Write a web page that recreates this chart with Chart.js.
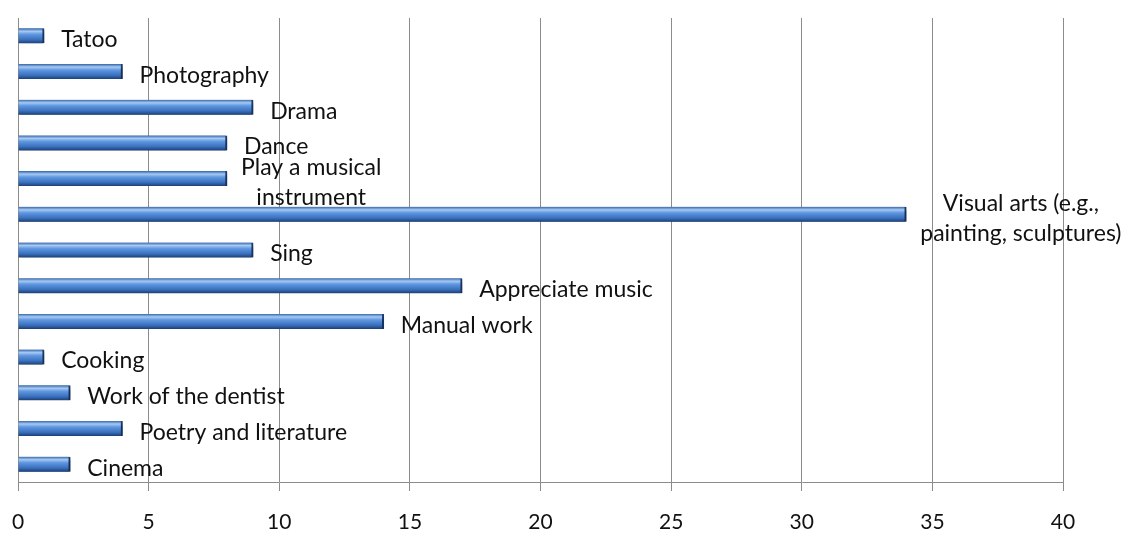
<!DOCTYPE html>
<html>
<head>
<meta charset="utf-8">
<script src="https://cdn.jsdelivr.net/npm/chart.js@4"></script>
<style>
  html, body { margin: 0; padding: 0; background: #fff; }
  #wrap { width: 1133px; height: 536px; }
</style>
</head>
<body>
<div id="wrap"><canvas id="myChart" width="1133" height="536"></canvas></div>
<script>
const categories = [
    'Tatoo', 'Photography', 'Drama', 'Dance', ['Play a musical', 'instrument'],
    ['Visual arts (e.g.,', 'painting, sculptures)'], 'Sing', 'Appreciate music',
    'Manual work', 'Cooking', 'Work of the dentist', 'Poetry and literature', 'Cinema'
];
const counts = [1, 4, 9, 8, 8, 34, 9, 17, 14, 1, 2, 4, 2];
const xTicks = [0, 5, 10, 15, 20, 25, 30, 35, 40];

const BAR = 15;
const FAMILY = 'Lato, "Open Sans", sans-serif';

// glossy blue fill, one gradient per bar row
function barFill(context) {
    const chart = context.chart;
    if (!chart.chartArea) return '#3c78c8';
    const y = chart.scales.y.getPixelForValue(context.dataIndex);
    const g = chart.ctx.createLinearGradient(0, y - BAR / 2, 0, y + BAR / 2);
    g.addColorStop(0, '#3466a8');
    g.addColorStop(0.2, '#a6c9f4');
    g.addColorStop(0.4, '#5f97e0');
    g.addColorStop(0.75, '#3a70bd');
    g.addColorStop(1, '#1b3f78');
    return g;
}

// soft drop shadow under the bars
const shadowPlugin = {
    id: 'barShadow',
    beforeDatasetDraw(chart) {
        const ctx = chart.ctx;
        ctx.save();
        ctx.shadowColor = 'rgba(0,0,0,0.45)';
        ctx.shadowBlur = 4;
        ctx.shadowOffsetX = 1;
        ctx.shadowOffsetY = 3;
    },
    afterDatasetDraw(chart) {
        chart.ctx.restore();
    }
};

// category names written to the right of each bar
const barLabels = {
    id: 'barLabels',
    afterDatasetsDraw(chart) {
        const ctx = chart.ctx;
        const meta = chart.getDatasetMeta(0);
        ctx.save();
        ctx.font = '23px ' + FAMILY;
        ctx.fillStyle = '#111';
        ctx.textBaseline = 'middle';
        meta.data.forEach(function (bar, i) {
            const lab = categories[i];
            if (Array.isArray(lab)) {
                const w = Math.max.apply(null, lab.map(function (s) { return ctx.measureText(s).width; }));
                const cx = bar.x + 14 + w / 2;
                ctx.textAlign = 'center';
                lab.forEach(function (s, k) {
                    ctx.fillText(s, cx, bar.y - 11 + k * 30);
                });
            } else {
                ctx.textAlign = 'left';
                ctx.fillText(lab, bar.x + 17, bar.y + 4);
            }
        });
        ctx.restore();
    }
};

const ctx = document.getElementById('myChart').getContext('2d');
new Chart(ctx, {
    type: 'bar',
    data: {
        labels: categories,
        datasets: [{
            label: 'Count',
            data: counts,
            backgroundColor: barFill,
            borderColor: '#1b3f78',
            borderWidth: { top: 0, bottom: 0, left: 0, right: 2 },
            borderSkipped: false,
            barThickness: BAR
        }]
    },
    options: {
        indexAxis: 'y',
        responsive: false,
        animation: false,
        layout: {
            padding: { left: 18, right: 70, top: 18, bottom: 0 }
        },
        plugins: {
            legend: { display: false },
            tooltip: { enabled: false }
        },
        scales: {
            x: {
                min: 0,
                max: 40,
                afterBuildTicks: function (axis) {
                    axis.ticks = xTicks.map(function (v) { return { value: v }; });
                },
                afterFit: function (axis) {
                    axis.height = 54;
                    axis.paddingLeft = 0;
                    axis.paddingRight = 0;
                },
                grid: {
                    color: '#8c8c8c',
                    lineWidth: 1,
                    tickLength: 9,
                    drawTicks: true
                },
                border: { color: '#8c8c8c' },
                ticks: {
                    color: '#111',
                    padding: 19,
                    maxRotation: 0,
                    font: { family: FAMILY, size: 21 }
                }
            },
            y: {
                display: false,
                grid: { display: false }
            }
        }
    },
    plugins: [shadowPlugin, barLabels]
});
</script>
</body>
</html>
